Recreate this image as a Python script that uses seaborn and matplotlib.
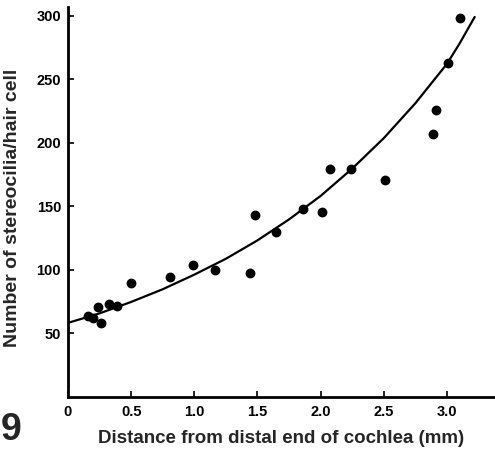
import matplotlib
matplotlib.use("Agg")
import matplotlib.pyplot as plt
import seaborn as sns
import pandas as pd

# Measured points
distance_mm = [0.156, 0.20, 0.238, 0.26, 0.323, 0.386, 0.50, 0.807, 0.987, 1.16,
               1.44, 1.479, 1.648, 1.862, 2.013, 2.071, 2.24, 2.508, 2.889, 2.913,
               3.005, 3.103]
stereocilia = [63.6, 62.0, 70.5, 57.9, 72.6, 71.3, 89.1, 94.3, 103.5, 99.6,
               97.0, 142.9, 129.8, 147.6, 145.5, 179.4, 179.1, 170.5, 207.0, 225.8,
               262.4, 297.8]

# Fitted curve
curve_x = [0, 0.25, 0.5, 0.75, 1.0, 1.25, 1.5, 1.75, 2.0, 2.25, 2.5, 2.75, 3.0, 3.1, 3.22]
curve_y = [58, 65.5, 74.5, 84.5, 96, 108.5, 123, 139.5, 158, 179.5, 203.5, 231, 262, 278, 299]

x_ticks = [0, 0.5, 1.0, 1.5, 2.0, 2.5, 3.0]
x_tick_labels = ["0", "0.5", "1.0", "1.5", "2.0", "2.5", "3.0"]
y_ticks = [50, 100, 150, 200, 250, 300]
y_tick_labels = ["50", "100", "150", "200", "250", "300"]

sns.set_theme(style="ticks")
plt.rcParams['font.family'] = ['Liberation Sans', 'DejaVu Sans']

fig = plt.figure(figsize=(4.95, 4.5), dpi=100)
ax = fig.add_axes([68/495, 53.5/450, 1 - 68/495, 389.5/450])

pts = pd.DataFrame({"x": distance_mm, "y": stereocilia})
crv = pd.DataFrame({"x": curve_x, "y": curve_y})

sns.lineplot(data=crv, x="x", y="y", ax=ax, color="black", linewidth=1.6,
             sort=False, estimator=None)
sns.scatterplot(data=pts, x="x", y="y", ax=ax, color="black", s=50,
                edgecolor="black", linewidth=0, zorder=3)

ax.set_xlim(0, 427/126.3)
ax.set_ylim(0, 300 + (15.7 - 7)/1.2693)
ax.set_xticks(x_ticks)
ax.set_xticklabels(x_tick_labels, fontweight="bold", fontsize=10.5)
ax.set_yticks(y_ticks)
ax.set_yticklabels(y_tick_labels, fontweight="bold", fontsize=10.5)
ax.tick_params(axis="y", direction="in", length=4, width=1.2, colors="black", pad=5)
ax.tick_params(axis="x", direction="in", length=4, width=1.2, colors="black", pad=6)

for s in ["top", "right"]:
    ax.spines[s].set_visible(False)
for s in ["left", "bottom"]:
    ax.spines[s].set_linewidth(2)
    ax.spines[s].set_color("black")

ax.set_xlabel("Distance from distal end of cochlea (mm)", fontsize=13.5,
              fontweight="bold")
ax.xaxis.set_label_coords(0.5, -0.087)
ax.set_ylabel("Number of stereocilia/hair cell", fontsize=14, fontweight="bold")
ax.yaxis.set_label_coords(-0.11, 0.485)

fig.text(1/495, 1 - 430/450, "9", fontsize=27, fontweight="bold",
         ha="left", va="center")

fig.savefig("out.png", dpi=100)
